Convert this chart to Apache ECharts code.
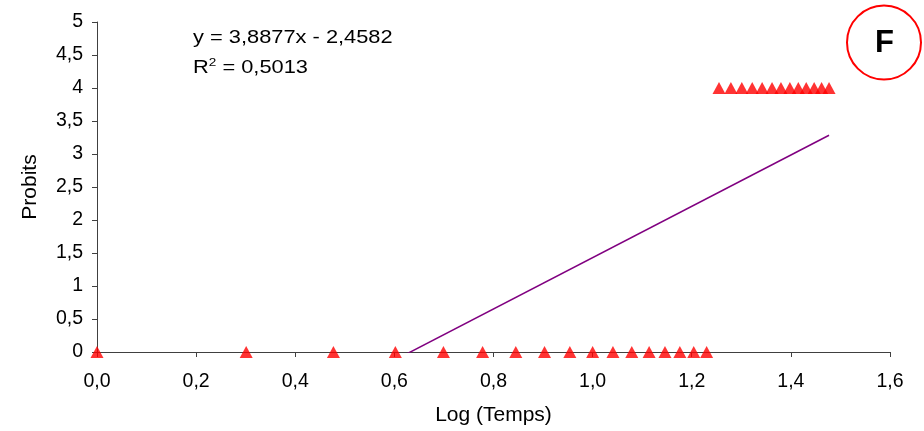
<!DOCTYPE html>
<html>
<head>
<meta charset="utf-8">
<script src="https://cdn.jsdelivr.net/npm/echarts@6/dist/echarts.min.js"></script>
<style>
html,body{margin:0;padding:0;background:#fff;}
#c{width:924px;height:431px;}
</style>
</head>
<body>
<div id="c"></div>
<script>
// Data
var logTemps = [0, 0.301, 0.477, 0.602, 0.699, 0.778, 0.845, 0.903, 0.954, 1.0, 1.041, 1.079, 1.114, 1.146, 1.176, 1.204, 1.230,
                1.255, 1.279, 1.301, 1.322, 1.342, 1.362, 1.380, 1.398, 1.415, 1.431, 1.447, 1.462, 1.477];
var probits = [0, 0, 0, 0, 0, 0, 0, 0, 0, 0, 0, 0, 0, 0, 0, 0, 0,
               4, 4, 4, 4, 4, 4, 4, 4, 4, 4, 4, 4, 4];
var slope = 3.8877;
var intercept = -2.4582;
var equationText = 'y = 3,8877x - 2,4582';
var r2Value = '0,5013';
var panelLabel = 'F';
var xTicks = [0, 0.2, 0.4, 0.6, 0.8, 1.0, 1.2, 1.4, 1.6];
var yTicks = [0, 0.5, 1, 1.5, 2, 2.5, 3, 3.5, 4, 4.5, 5];

var points = logTemps.map(function (x, i) { return [x, probits[i]]; });
var xMin = Math.min.apply(null, logTemps), xMax = Math.max.apply(null, logTemps);
var trend = [[xMin, slope * xMin + intercept], [xMax, slope * xMax + intercept]];

function fmt(v, d) { return v.toFixed(d).replace('.', ','); }

var chart = echarts.init(document.getElementById('c'), null, {renderer: 'canvas'});
var font = 'Liberation Sans, Arial, sans-serif';
chart.setOption({
  animation: false,
  backgroundColor: '#fff',
  grid: {left: 97, right: 34, top: 22, bottom: 79},
  xAxis: {
    type: 'value', min: xTicks[0], max: xTicks[xTicks.length - 1], interval: 0.2,
    name: 'Log (Temps)', nameLocation: 'middle', nameGap: 53,
    nameTextStyle: {fontFamily: font, fontSize: 21, color: '#000'},
    axisLine: {show: true, onZero: false, lineStyle: {color: '#404040', width: 1}},
    axisTick: {show: true, inside: false, length: 5, lineStyle: {color: '#404040'}},
    axisLabel: {fontFamily: font, fontSize: 19.5, color: '#000', margin: 20,
      formatter: function (v) { return fmt(v, 1); }},
    splitLine: {show: false}
  },
  yAxis: {
    type: 'value', min: yTicks[0], max: yTicks[yTicks.length - 1], interval: 0.5,
    name: 'Probits', nameLocation: 'middle', nameGap: 56, nameRotate: 90,
    nameTextStyle: {fontFamily: font, fontSize: 21, color: '#000'},
    axisLine: {show: true, onZero: false, lineStyle: {color: '#404040', width: 1}},
    axisTick: {show: true, inside: false, length: 5, lineStyle: {color: '#404040'}},
    axisLabel: {fontFamily: font, fontSize: 19.5, color: '#000', margin: 14,
      formatter: function (v) { return Number.isInteger(v) ? String(v) : fmt(v, 1); }},
    splitLine: {show: false}
  },
  series: [
    {
      type: 'line', data: trend, showSymbol: false, symbol: 'none', clip: true,
      lineStyle: {color: '#800080', width: 1.5}, z: 2, silent: true
    },
    {
      type: 'scatter', data: points, symbol: 'triangle', symbolSize: [13, 12],
      itemStyle: {color: '#ff0000'}, z: 3, clip: false
    }
  ],
  graphic: [
    {type: 'text', x: 193, y: 28.5, scaleX: 1.18, style: {text: equationText, font: '18.5px ' + font, fill: '#000', verticalAlign: 'top'}},
    {type: 'text', x: 193, y: 56.5, scaleX: 1.18, style: {
      text: 'R{sup|2} = ' + r2Value,
      font: '18.5px ' + font, fill: '#000', verticalAlign: 'top',
      rich: {sup: {fontSize: 11.5, fontFamily: font, verticalAlign: 'top', padding: [0, 0, 10, 0], fill: '#000'}}
    }},
    {type: 'circle', shape: {cx: 884, cy: 42.5, r: 37}, style: {fill: 'none', stroke: '#ff0000', lineWidth: 2}},
    {type: 'text', x: 884.5, y: 43.5, style: {text: panelLabel, font: 'bold 31px ' + font, fill: '#000', align: 'center', verticalAlign: 'middle'}}
  ]
});
</script>
</body>
</html>
